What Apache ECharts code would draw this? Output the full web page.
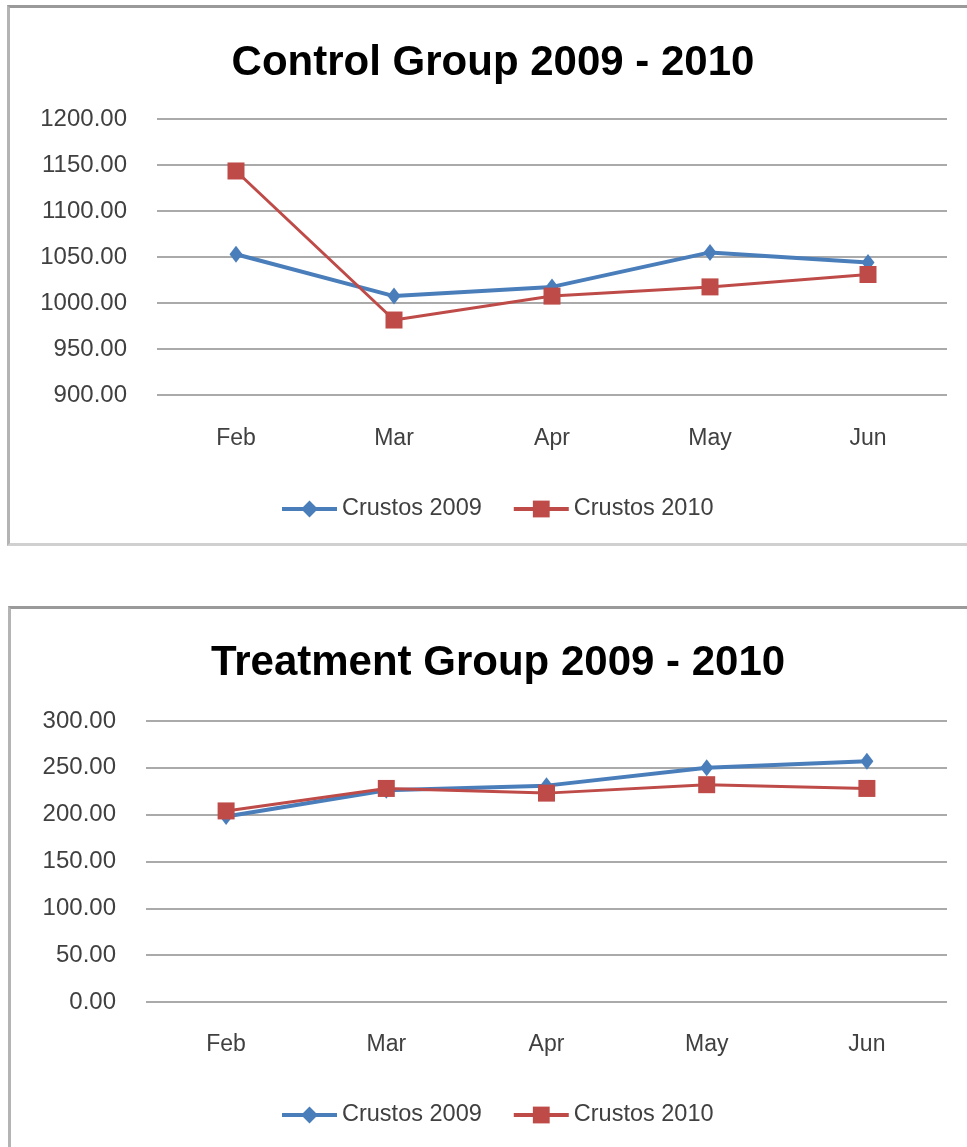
<!DOCTYPE html>
<html>
<head>
<meta charset="utf-8">
<script src="https://cdn.jsdelivr.net/npm/echarts@6/dist/echarts.min.js"></script>
<style>
    html, body { margin: 0; padding: 0; background: #fff; overflow: hidden; }
    body { width: 967px; height: 1147px; position: relative; }
    .box {
        position: absolute;
        box-sizing: border-box;
        width: 990px;
        border-top: 3px solid #9a9a9a;
        border-left: 3px solid #b4b4b4;
        border-bottom: 3px solid #d0d0d0;
    }
    .chart { position: absolute; left: 0; width: 967px; }
</style>
</head>
<body>
<div class="box" style="left:7px; top:5px; height:541px;"></div>
<div class="box" style="left:8px; top:606px; height:600px;"></div>
<div class="chart" id="controlChart" style="top:0; height:575px;"></div>
<div class="chart" id="treatmentChart" style="top:575px; height:572px;"></div>

<script>
const categories = ["Feb", "Mar", "Apr", "May", "Jun"]
const seriesNames = ["Crustos 2009", "Crustos 2010"]

const control2009 = [1053, 1007.5, 1017.5, 1055, 1044]
const control2010 = [1143.5, 981.5, 1007.5, 1017.5, 1031]

const treatment2009 = [198, 226, 231, 250, 257]
const treatment2010 = [204, 228, 223, 232, 228]

const blue = "#4a7ebb"
const red = "#be4b48"
const textFont = "Liberation Sans"

function makeOption(cfg) {
    return {
        animation: false,
        title: {
            text: cfg.title,
            left: cfg.titleX,
            top: cfg.titleTop,
            textAlign: "center",
            textStyle: {
                fontFamily: textFont,
                fontSize: 42,
                fontWeight: "bold",
                color: "#000",
                lineHeight: 50,
            },
        },
        legend: {
            data: [
                { name: seriesNames[0], lineStyle: { width: 4 } },
                { name: seriesNames[1], lineStyle: { width: 4 } },
            ],
            top: cfg.legendTop,
            left: 275,
            itemWidth: 55,
            itemHeight: 21,
            itemGap: 30,
            textStyle: {
                fontFamily: textFont,
                fontSize: 23.5,
                color: "#404040",
                lineHeight: 24,
            },
        },
        grid: {
            left: cfg.gridLeft,
            right: 20,
            top: cfg.gridTop,
            height: cfg.gridHeight,
        },
        xAxis: {
            type: "category",
            data: categories,
            axisLine: { show: false },
            axisTick: { show: false },
            axisLabel: {
                margin: cfg.xMargin,
                fontFamily: textFont,
                fontSize: 23,
                color: "#404040",
            },
        },
        yAxis: {
            type: "value",
            min: cfg.min,
            max: cfg.max,
            interval: 50,
            axisLine: { show: false },
            axisTick: { show: false },
            splitLine: { lineStyle: { color: "#aaaaaa", width: 2 } },
            axisLabel: {
                margin: 30,
                fontFamily: textFont,
                fontSize: 24,
                color: "#404040",
                formatter: function (v) {
                    return v.toFixed(2)
                },
            },
        },
        series: [
            {
                name: seriesNames[0],
                type: "line",
                data: cfg.first,
                symbol: "diamond",
                symbolSize: [13, 17],
                lineStyle: { color: blue, width: 4 },
                itemStyle: { color: blue },
            },
            {
                name: seriesNames[1],
                type: "line",
                data: cfg.second,
                symbol: "rect",
                symbolSize: 17,
                lineStyle: { color: red, width: 3 },
                itemStyle: { color: red },
            },
        ],
    }
}

let controlChart = echarts.init(document.getElementById("controlChart"))
controlChart.setOption(
    makeOption({
        title: "Control Group 2009 - 2010",
        titleX: 488,
        titleTop: 33,
        legendTop: 492,
        gridLeft: 157,
        gridTop: 119,
        gridHeight: 276,
        xMargin: 32,
        min: 900,
        max: 1200,
        first: control2009,
        second: control2010,
    }),
)

let treatmentChart = echarts.init(document.getElementById("treatmentChart"))
treatmentChart.setOption(
    makeOption({
        title: "Treatment Group 2009 - 2010",
        titleX: 493,
        titleTop: 58,
        legendTop: 523,
        gridLeft: 146,
        gridTop: 146,
        gridHeight: 281,
        xMargin: 31,
        min: 0,
        max: 300,
        first: treatment2009,
        second: treatment2010,
    }),
)
</script>
</body>
</html>
